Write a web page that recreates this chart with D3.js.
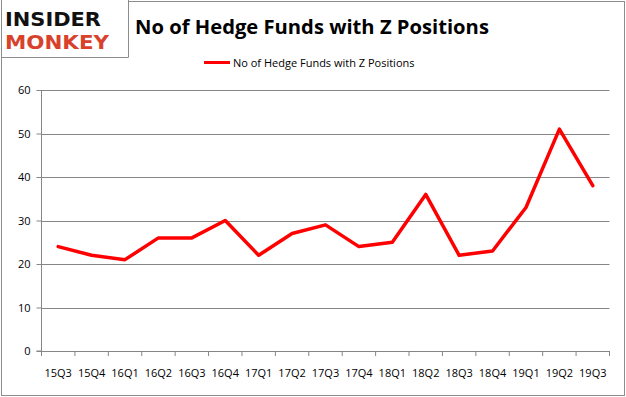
<!DOCTYPE html>
<html><head><meta charset="utf-8">
<script src="https://cdn.jsdelivr.net/npm/d3@7"></script>
<style>body{margin:0;background:#fff}svg{display:block}</style>
</head><body>
<svg id="c" width="626" height="397"></svg>
<script>
const categories = ["15Q3","15Q4","16Q1","16Q2","16Q3","16Q4","17Q1","17Q2","17Q3","17Q4","18Q1","18Q2","18Q3","18Q4","19Q1","19Q2","19Q3"];
const values = [24,22,21,26,26,30,22,27,29,24,25,36,22,23,33,51,38];
const yTicks = [0,10,20,30,40,50,60];
const seriesName = "No of Hedge Funds with Z Positions";
const titleText = "No of Hedge Funds with Z Positions";

const svg = d3.select("#c");
const W = 626, H = 397;
const L = 41.5, R = 609.5, T = 90, B = 351;

svg.append("rect").attr("x",1.5).attr("y",1.5).attr("width",W-3).attr("height",H-3)
  .attr("fill","#fff").attr("stroke","#8c8c8c").attr("stroke-width",1);

const x = d3.scalePoint().domain(categories).range([L,R]).padding(0.5);
const y = d3.scaleLinear().domain([0,60]).range([B,T]);

// grid
svg.append("g").selectAll("line").data(yTicks.filter(d=>d>0)).join("line")
  .attr("x1",L).attr("x2",R).attr("y1",d=>Math.round(y(d))+0.5).attr("y2",d=>Math.round(y(d))+0.5)
  .attr("stroke","#868686").attr("stroke-width",1);

// y axis
const ya = svg.append("g").attr("transform",`translate(${L},0)`)
  .call(d3.axisLeft(y).tickValues(yTicks).tickSize(5).tickPadding(4));
ya.select(".domain").attr("stroke","#868686").attr("d",`M-5,${B}H0V${T}`);
ya.selectAll(".tick line").attr("stroke","#868686");
ya.selectAll("text").attr("font-family","'Open Sans', sans-serif").attr("font-size",11).attr("fill","#000").attr("dx",-2);

// x axis
const bandStep = (R-L)/categories.length;
const xa = svg.append("g").attr("transform",`translate(0,${B})`);
xa.append("line").attr("x1",L).attr("x2",R).attr("y1",0.5).attr("y2",0.5).attr("stroke","#868686");
xa.selectAll("line.t").data(d3.range(categories.length+1)).join("line").attr("class","t")
  .attr("x1",i=>L+i*bandStep).attr("x2",i=>L+i*bandStep).attr("y1",0).attr("y2",5).attr("stroke","#868686");
xa.selectAll("text").data(categories).join("text")
  .attr("x",d=>x(d)).attr("y",26).attr("text-anchor","middle")
  .attr("font-family","'Open Sans', sans-serif").attr("font-size",11).attr("fill","#000").text(d=>d);

// line
const line = d3.line().x((d,i)=>x(categories[i])).y(d=>y(d));
svg.append("path").datum(values).attr("d",line).attr("fill","none")
  .attr("stroke","#ff0000").attr("stroke-width",3.5).attr("stroke-linejoin","round").attr("stroke-linecap","round");

// title
svg.append("text").attr("x",312).attr("y",34).attr("text-anchor","middle")
  .attr("font-family","'Open Sans', sans-serif").attr("font-weight","bold").attr("font-size",20.2).attr("fill","#000").text(titleText);

// legend
svg.append("line").attr("x1",204).attr("x2",230).attr("y1",62.5).attr("y2",62.5).attr("stroke","#ff0000").attr("stroke-width",3);
svg.append("text").attr("x",233).attr("y",66.5).attr("font-family","'Open Sans', sans-serif").attr("font-size",11).attr("fill","#000").text(seriesName);

// logo
const lg = svg.append("g");
lg.append("rect").attr("x",0).attr("y",0).attr("width",128).attr("height",57).attr("fill","#fff");
lg.append("path").attr("d","M1.5,0V57.5H128.5V0").attr("fill","none").attr("stroke","#8c8c8c");
lg.append("text").attr("x",5).attr("y",26).attr("font-family","'DejaVu Sans', sans-serif").attr("font-weight","bold")
  .attr("font-size",19.5).attr("textLength",96).attr("lengthAdjust","spacingAndGlyphs").attr("fill","#111").text("INSIDER");
lg.append("text").attr("x",5).attr("y",49).attr("font-family","'DejaVu Sans', sans-serif").attr("font-weight","bold")
  .attr("font-size",19.5).attr("textLength",104).attr("lengthAdjust","spacingAndGlyphs").attr("fill","#d8412b").text("MONKEY");
</script>
</body></html>
